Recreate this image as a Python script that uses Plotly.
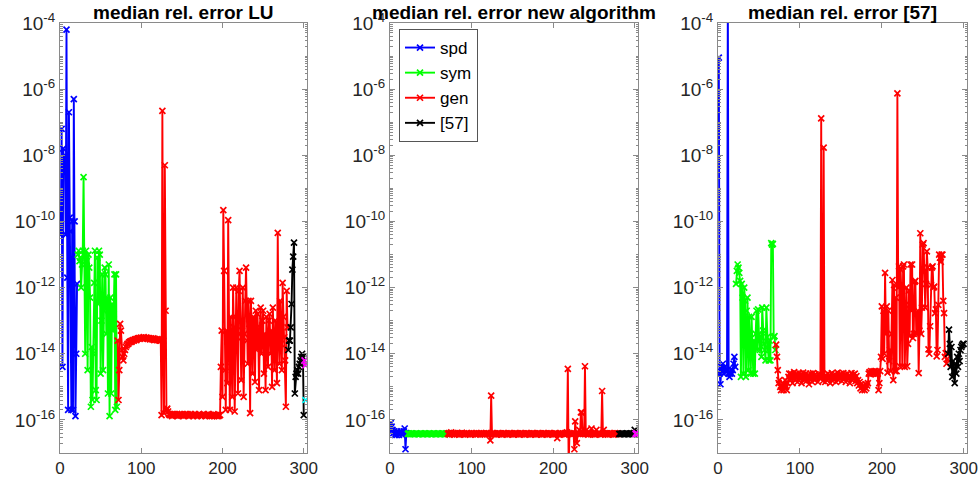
import plotly.graph_objects as go

# ---------------- data (median relative errors, by problem index) ----------------
# Panel 1: LU
lu_spd = [4e-11, 6.3e-8, 4e-15, 1.6e-8, 5e-9, 1e-8, 4e-11, 6.3e-5, 2e-12, 2e-16, 2e-7, 1.3e-10, 5e-11, 2e-16,
          1e-10, 2e-16, 5e-7, 1e-10, 1.3e-16, 1e-14, 1.3e-12]
lu_sym = [1e-11, 1.3e-11, 6.3e-12, 8e-12, 1e-12, 5e-12, 1.3e-11, 2.2e-9, 1e-11, 1e-14,
          1.3e-11, 6.3e-12, 3.2e-15, 1e-11, 4e-12, 5e-13, 2.5e-16, 1.6e-14, 4e-16, 1e-14,
          1.4e-12, 1.3e-11, 8e-16, 4e-16, 8e-12, 3.2e-13, 1.3e-11, 1e-11, 2.5e-15, 1e-13,
          2.5e-12, 3.2e-15, 2e-13, 4e-12, 2.5e-12, 4e-14, 5e-13, 6.3e-16, 5e-12, 1.3e-16,
          5e-13, 6.3e-16, 3.2e-13, 5e-14, 1.6e-13, 2.5e-12, 2e-16, 2.5e-12, 2.5e-16]
lu_gen = [2.5e-14, 4e-16, 3.2e-15, 8e-14, 5e-14, 1.3e-14, 8e-15, 6.3e-15, 1e-14, 1.3e-14, 1.6e-14, 1.8e-14, 2e-14, 2e-14,
          2.2e-14, 2.3e-14, 2.4e-14, 2.3e-14, 2.5e-14, 2.6e-14, 2.5e-14, 2.7e-14, 2.8e-14, 2.6e-14,
          2.8e-14, 2.9e-14, 3e-14, 2.8e-14, 3e-14, 3.1e-14, 2.9e-14, 3e-14, 3.2e-14, 3e-14,
          2.9e-14, 3.1e-14, 3e-14, 2.8e-14, 3e-14, 2.9e-14, 2.7e-14, 2.9e-14, 2.8e-14, 2.7e-14,
          2.9e-14, 2.6e-14, 2.8e-14, 2.7e-14, 2.6e-14, 2.8e-14, 2.6e-14, 2.7e-14, 2.5e-14,
          2.5e-14, 1.4e-16, 2.2e-7, 2.5e-14, 1.6e-16, 5e-9, 2e-13, 2e-16, 2.2e-16, 1.8e-16,
          1.5e-16, 1.4e-16, 1.5e-16, 1.4e-16, 1.3e-16, 1.5e-16, 1.4e-16, 1.5e-16,
          1.4e-16, 1.4e-16, 1.5e-16, 1.3e-16, 1.4e-16, 1.5e-16, 1.4e-16, 1.4e-16,
          1.5e-16, 1.4e-16, 1.3e-16, 1.4e-16, 1.5e-16, 1.4e-16, 1.4e-16, 1.5e-16,
          1.4e-16, 1.3e-16, 1.4e-16, 1.5e-16, 1.4e-16, 1.4e-16, 1.3e-16, 1.4e-16,
          1.5e-16, 1.4e-16, 1.4e-16, 1.3e-16, 1.4e-16, 1.5e-16, 1.4e-16, 1.4e-16,
          1.3e-16, 1.4e-16, 1.4e-16, 1.5e-16, 1.4e-16, 1.3e-16, 1.4e-16, 1.4e-16,
          1.5e-16, 1.4e-16, 1.3e-16, 1.4e-16, 1.4e-16, 1.3e-16, 1.4e-16, 1.5e-16,
          1.3e-16, 1.4e-16, 1.4e-16, 1.3e-16, 1.4e-16, 1.3e-16, 1.4e-16, 1.4e-16,
          4e-15, 5e-14, 5e-16, 2.2e-10, 3.2e-12, 3.2e-15, 2e-16, 5e-14, 1.3e-15, 1.1e-10,
          1e-14, 2e-16, 1.3e-13, 4e-15, 5e-16, 1e-12, 6.3e-14, 1.8e-16, 1.3e-13, 1e-12,
          3.2e-14, 6.3e-16, 8e-13, 3.2e-12, 1e-13, 1.6e-15, 5e-14, 1e-12, 5e-16, 4e-14,
          4e-13, 4e-12, 2.5e-14, 5e-15, 4e-13, 8e-14, 1.6e-16, 4e-13, 5e-14, 2.5e-15,
          1.3e-13, 1e-13, 1.4e-15, 2e-13, 1.3e-14, 1.6e-13, 3.2e-14, 8e-16, 6.3e-14, 2.5e-13,
          1e-14, 1e-13, 2e-13, 2.5e-15, 4e-14, 8e-16, 1.3e-13, 2.5e-14, 4e-15, 1e-13,
          1.6e-13, 1e-14, 5e-14, 1e-15, 2.5e-13, 1.6e-14, 3.2e-15, 1e-13, 2.5e-14, 1.3e-15,
          4.5e-11, 4e-14, 5e-15, 4e-13, 2e-14, 3.2e-15, 1.4e-12, 1.3e-13, 3.2e-14, 6.3e-15,
          2.5e-16, 8e-13, 6.3e-14]
lu_57 = [1.3e-14, 2.5e-14, 2.5e-14, 6.3e-14, 3.2e-13, 3.5e-12, 8.7e-12, 2.3e-11, 6.3e-16, 2e-15,
         2.5e-15, 3.2e-15, 2.5e-15, 4e-15, 5e-15, 6.3e-15, 8e-15, 1e-14, 8e-15, 1.4e-16]
lu_extra_m = [6.3e-15, 4.5e-15, 5.5e-15]
lu_extra_c = [4e-16]

# Panel 2: new algorithm
new_spd = [8e-17, 6.3e-17, 5e-17, 4e-17, 4.5e-17, 3.5e-17, 4e-17, 3.5e-17, 4.5e-17, 4e-17, 3.5e-17,
           4e-17, 4.5e-17, 4e-17, 3.5e-17, 4e-17, 4.5e-17, 5.5e-17, 1.3e-17, 4e-17, 3.8e-17]
new_sym = [3.8e-17, 3.9e-17, 3.8e-17, 3.7e-17, 3.8e-17, 3.9e-17, 3.8e-17, 3.8e-17, 3.7e-17, 3.8e-17,
           3.9e-17, 3.8e-17, 3.8e-17, 3.7e-17, 3.8e-17, 3.8e-17, 3.9e-17, 3.8e-17, 3.7e-17, 3.8e-17,
           3.8e-17, 3.9e-17, 3.8e-17, 3.8e-17, 3.7e-17, 3.8e-17, 3.9e-17, 3.8e-17, 3.8e-17, 3.7e-17,
           3.8e-17, 3.8e-17, 3.9e-17, 3.8e-17, 3.7e-17, 3.8e-17, 3.8e-17, 3.9e-17, 3.8e-17, 3.8e-17,
           3.7e-17, 3.8e-17, 3.9e-17, 3.8e-17, 3.8e-17, 3.7e-17, 3.8e-17, 3.9e-17, 3.8e-17]
new_gen = [3.8e-17, 4e-17, 3.6e-17, 3.9e-17, 4.2e-17, 3.7e-17, 3.8e-17, 4e-17, 3.6e-17, 3.9e-17,
           3.8e-17, 3.7e-17, 4e-17, 3.8e-17, 3.6e-17, 3.9e-17, 3.8e-17, 4.1e-17, 3.7e-17, 3.8e-17,
           3.9e-17, 3.6e-17, 3.8e-17, 4e-17, 3.7e-17, 3.8e-17, 3.9e-17, 3.6e-17, 3.8e-17, 4e-17,
           3.7e-17, 3.8e-17, 3.9e-17, 3.8e-17, 3.6e-17, 4e-17, 3.8e-17, 3.7e-17, 3.9e-17, 3.8e-17,
           3.8e-17, 4e-17, 3.7e-17, 3.8e-17, 3.9e-17, 3.6e-17, 3.8e-17, 4e-17, 3.7e-17, 3.8e-17,
           3.9e-17, 3.8e-17, 2.4e-17, 5.4e-16, 4e-17, 3.8e-17, 3.7e-17, 3.9e-17, 3.8e-17, 3.6e-17,
           3.8e-17, 4e-17, 3.7e-17, 3.8e-17, 3.9e-17, 3.8e-17, 3.6e-17, 3.8e-17, 4e-17, 3.7e-17,
           3.8e-17, 3.9e-17, 3.8e-17, 3.6e-17, 3.8e-17, 4e-17, 3.7e-17, 3.8e-17, 3.9e-17, 3.8e-17,
           3.6e-17, 3.8e-17, 4e-17, 3.7e-17, 3.8e-17, 3.9e-17, 3.8e-17, 3.6e-17, 3.8e-17, 4e-17,
           3.7e-17, 3.8e-17, 3.9e-17, 3.8e-17, 3.6e-17, 3.8e-17, 4e-17, 3.7e-17, 3.8e-17, 3.9e-17,
           3.8e-17, 3.6e-17, 3.8e-17, 4e-17, 3.7e-17, 3.8e-17, 3.9e-17, 3.8e-17, 3.6e-17, 3.8e-17,
           4e-17, 3.7e-17, 3.8e-17, 3.9e-17, 3.8e-17, 3.6e-17, 3.8e-17, 4e-17, 3.7e-17, 3.8e-17,
           3.9e-17, 3.8e-17, 3.6e-17, 3.8e-17, 4e-17, 3.7e-17, 3.8e-17, 3.9e-17, 3.8e-17, 3.6e-17,
           3.8e-17, 4e-17, 3.7e-17, 3.8e-17, 2.8e-17, 3.8e-17, 3.6e-17, 3.8e-17, 4e-17, 3.7e-17,
           3.8e-17, 3.9e-17, 3.8e-17, 3.6e-17, 3.8e-17, 4e-17, 4.2e-17, 3.5e-15, 4e-18, 3.8e-17,
           3.9e-17, 3.8e-17, 3.6e-17, 3.8e-17, 4e-17, 1.3e-17, 9e-17, 3.8e-17, 2e-17, 3.9e-17,
           3.8e-17, 5e-17, 3.7e-17, 1.7e-16, 1.7e-16, 3.8e-17, 4e-17, 3.9e-17, 4.2e-15, 3.8e-17,
           5e-17, 3.8e-17, 3.6e-17, 3.8e-17, 4e-17, 3.7e-17, 5.5e-17, 3.8e-17, 3.9e-17, 3.8e-17,
           3.6e-17, 3.8e-17, 5e-17, 3.7e-17, 3.8e-17, 3.9e-17, 3.8e-17, 3.6e-17, 3.8e-17, 7.5e-16,
           4e-17, 5e-17, 3.8e-17, 3.7e-17, 3.9e-17, 3.8e-17, 3.6e-17, 3.8e-17, 4e-17, 3.7e-17,
           3.8e-17, 3.9e-17, 3.8e-17, 3.6e-17, 3.8e-17, 4e-17, 3.7e-17, 3.8e-17, 3.9e-17, 3.8e-17]
new_57 = [3.8e-17, 3.7e-17, 3.8e-17, 3.8e-17, 3.9e-17, 3.8e-17, 3.7e-17, 3.8e-17, 3.8e-17, 3.9e-17,
          3.8e-17, 3.7e-17, 3.8e-17, 3.8e-17, 3.9e-17, 3.8e-17, 3.7e-17, 3.8e-17, 4e-17, 5e-17]
new_extra_m = [3.8e-17, 4e-17, 3.7e-17]

# Panel 3: method [57]
ref_spd = [9e-6, 2.5e-15, 1.2e-15, 4e-15, 3.2e-15, 5e-15, 2.5e-15, 4e-15, 3.2e-15, 2.8e-15, 3.2e-15,
           1e-3, 2.5e-15, 2e-15, 2.5e-15, 3.2e-15, 2.5e-15, 3.2e-15, 5e-15, 8e-15, 4e-15]
ref_sym = [1.3e-12, 3.2e-12, 5e-12, 4e-12, 2.8e-12, 1.6e-12, 2e-15, 1.3e-12, 5e-13, 2.5e-15,
           1e-12, 4e-13, 2e-15, 2e-13, 5e-13, 3.2e-15, 1.3e-13, 1.6e-14, 2.5e-15, 1.3e-13,
           1e-14, 2.5e-15, 2.5e-14, 2.5e-15, 4e-14, 2e-13, 1.3e-14, 2.2e-13, 4e-14, 1.3e-14,
           3.2e-14, 8e-15, 2.5e-13, 5e-14, 2e-14, 1.3e-14, 6.3e-15, 2.5e-13, 3.2e-14, 1.3e-14,
           6.3e-15, 2.5e-14, 6.3e-15, 2.2e-11, 2e-11, 2.1e-11, 3.2e-14, 3.4e-14, 1.3e-14]
ref_gen = [1.9e-14, 8e-15, 3.2e-15, 1.3e-15, 1.6e-15, 1e-15, 8e-16, 1e-15, 1.3e-15, 8e-16, 1e-15, 1.6e-15, 1e-15, 8e-16,
           1.3e-15, 2e-15, 2.5e-15, 1.6e-15, 2.5e-15, 2e-15, 1.3e-15, 2.2e-15, 2.8e-15, 1.6e-15,
           2e-15, 2.5e-15, 1.4e-15, 2.2e-15, 2.6e-15, 1.8e-15, 2.4e-15, 1.3e-15, 2e-15, 2.7e-15,
           1.6e-15, 2.2e-15, 2.5e-15, 1.5e-15, 2e-15, 2.3e-15, 1.2e-15, 1.8e-15, 2.5e-15, 2e-15,
           1.4e-15, 2.6e-15, 2.2e-15, 1.6e-15, 2.4e-15, 1.8e-15, 2e-15, 1.4e-15, 2.5e-15, 2.2e-15,
           1.8e-15,
           1.3e-7, 2e-15, 1.5e-15, 1.7e-8, 2e-15,
           1.4e-15, 2.2e-15, 1.6e-15, 2.5e-15, 1.8e-15, 2.3e-15, 1.3e-15, 2e-15, 2.6e-15, 1.5e-15,
           2.2e-15, 1.8e-15, 2.4e-15, 1.4e-15, 2e-15, 2.7e-15, 1.6e-15, 2.2e-15, 1.9e-15, 2.5e-15,
           1.5e-15, 2.1e-15, 2.6e-15, 1.7e-15, 2.3e-15, 1.4e-15, 2e-15, 2.5e-15, 1.8e-15, 2.2e-15,
           1.3e-15, 2e-15, 2.6e-15, 1.6e-15, 2.3e-15, 1.9e-15, 2.5e-15, 1.5e-15, 2.1e-15, 1.3e-15,
           1.6e-15, 1.1e-15, 1.4e-15, 9e-16, 1.2e-15, 8e-16, 1.1e-15, 1e-15, 8e-16, 1.2e-15,
           9e-16, 1.1e-15, 1.3e-15, 2.5e-15, 2.8e-15, 2.4e-15, 3e-15, 2.6e-15, 2.9e-15, 2.5e-15,
           3e-15, 2.7e-15, 2.4e-15, 2.9e-15, 2.5e-15, 8e-16, 1.3e-15,
           3e-15, 8e-15, 2.7e-13, 7e-15, 2e-13, 1e-14, 2.8e-12, 4e-14, 2.7e-13, 2.7e-15,
           2e-13, 6e-15, 1.3e-14, 3e-15, 4e-14, 1.7e-12, 1.6e-15, 1.2e-12, 3e-15, 5e-13,
           3e-15, 7.5e-7, 1e-12, 4.4e-12, 4.2e-15, 3.5e-12, 5e-13, 4.2e-15, 4.4e-12, 5e-12,
           4e-15, 3e-13, 1e-12, 4.2e-15, 2e-14, 8e-13, 3.4e-14, 5e-12, 2e-13, 5e-12,
           3e-14, 4e-14, 1.5e-12, 1.6e-12, 4.2e-14, 4e-14, 2e-13, 2.6e-15, 5e-14, 4.4e-11,
           4e-14, 2.5e-13, 2e-11, 2.2e-11, 3e-12, 2.5e-13, 1.3e-12, 1.25e-11, 4e-12, 1.35e-14,
           1e-14, 6.8e-14, 1.2e-12, 4e-12, 4.4e-12, 1e-12, 1.07e-12, 1.7e-13, 2.2e-13, 8.3e-15,
           1.3e-14, 3e-13, 1e-11, 8e-12, 6e-12, 1e-11, 1e-11, 4e-13, 1.7e-13, 8e-15,
           1.05e-14, 5e-15, 7e-15]
ref_57 = [1e-14, 5.4e-14, 2e-14, 4e-15, 1.6e-14, 2e-15, 6e-15, 3e-15, 1.3e-15, 5e-15,
          2.5e-15, 8e-15, 4e-15, 1e-14, 6e-15, 1.3e-14, 1.6e-14, 1.8e-14, 2e-14, 2e-14]

series_names = ["spd", "sym", "gen", "[57]"]
titles = ["median rel. error LU", "median rel. error new algorithm", "median rel. error [57]"]
x_ticks = [0, 100, 200, 300]
y_label_exps = [-4, -6, -8, -10, -12, -14, -16]

# ---------------- styling ----------------
COLORS = {"spd": "#0000FF", "sym": "#00FF00", "gen": "#FF0000", "[57]": "#000000",
          "m": "#FF00FF", "c": "#00FFFF"}
FONT = "Liberation Sans, Arial, sans-serif"
W, H = 980, 482
x_dom = [(60, 307), (390, 638), (718, 967)]
y_top, y_bot = 23, 453

panels = [
    [("spd", lu_spd), ("sym", lu_sym), ("gen", lu_gen), ("[57]", lu_57), ("m", lu_extra_m)],
    [("spd", new_spd), ("sym", new_sym), ("gen", new_gen), ("[57]", new_57), ("m", new_extra_m)],
    [("spd", ref_spd), ("sym", ref_sym), ("gen", ref_gen), ("[57]", ref_57)],
]

fig = go.Figure()

def add_trace(x, y, key, xa, ya, show):
    c = COLORS[key]
    fig.add_trace(go.Scatter(
        x=x, y=y, mode="lines+markers", name=key, showlegend=show,
        line=dict(color=c, width=1.9),
        marker=dict(symbol="x-thin", size=6, color=c, line=dict(color=c, width=1.7)),
        xaxis=xa, yaxis=ya, cliponaxis=True))

for p, groups in enumerate(panels):
    xa = "x" if p == 0 else f"x{p+1}"
    ya = "y" if p == 0 else f"y{p+1}"
    start = 1
    for key, vals in groups:
        xs = list(range(start, start + len(vals)))
        start += len(vals)
        add_trace(xs, vals, key, xa, ya, show=(p == 0 and key in series_names))
    if p == 0:
        add_trace([start - 2], lu_extra_c, "c", xa, ya, show=False)

# tick positions for the log axis
major_vals = [10.0 ** e for e in y_label_exps]
major_text = [f"10<sup>{e}</sup>" for e in y_label_exps]
minor_vals = []
for e in range(-17, -4):
    for k in range(1, 10):
        v = k * 10.0 ** e
        if not (k == 1 and e in y_label_exps):
            minor_vals.append(v)

AX = "#8a8a8a"
layout = dict(
    template="none",
    width=W, height=H, margin=dict(l=0, r=0, t=0, b=0, pad=0, autoexpand=False),
    paper_bgcolor="white", plot_bgcolor="white",
    font=dict(family=FONT, size=17, color="#262626"),
    showlegend=True,
    legend=dict(x=399 / W, y=1 - 29 / H, xanchor="left", yanchor="top",
                bgcolor="white", bordercolor="#555555", borderwidth=1,
                font=dict(family=FONT, size=17, color="#000000"),
                itemwidth=30, tracegroupgap=0),
    annotations=[],
)
for p in range(3):
    xs = "xaxis" if p == 0 else f"xaxis{p+1}"
    ys = "yaxis" if p == 0 else f"yaxis{p+1}"
    anchor_x = "y" if p == 0 else f"y{p+1}"
    anchor_y = "x" if p == 0 else f"x{p+1}"
    d0, d1 = x_dom[p]
    layout[xs] = dict(domain=[d0 / W, d1 / W], anchor=anchor_x, range=[0, 304], automargin=False,
                      tickmode="array", tickvals=x_ticks, ticks="inside", ticklen=5,
                      tickcolor=AX, showline=True, linecolor=AX, linewidth=1, mirror="ticks",
                      showgrid=False, zeroline=False, tickfont=dict(size=17, color="#262626"))
    layout[ys] = dict(domain=[1 - y_bot / H, 1 - y_top / H], anchor=anchor_y, type="log",
                      range=[-17, -4], automargin=False,
                      tickmode="array", tickvals=major_vals, ticktext=major_text,
                      ticks="inside", ticklen=5, tickcolor=AX, showline=True, linecolor=AX,
                      linewidth=1, mirror="ticks", showgrid=False, zeroline=False,
                      tickfont=dict(size=19, color="#262626"),
                      minor=dict(tickvals=minor_vals, ticks="inside", ticklen=2.5,
                                 tickcolor=AX, showgrid=False))
    layout["annotations"].append(dict(
        x=(d0 + d1) / 2 / W, y=1 - 12 / H, xref="paper", yref="paper",
        text=f"<b>{titles[p]}</b>", showarrow=False, xanchor="center", yanchor="middle",
        font=dict(family=FONT, size=19, color="#000000")))

fig.update_layout(**layout)
fig.write_html("out.html", config={"displayModeBar": False},
               post_script="document.body.style.margin='0px';")
